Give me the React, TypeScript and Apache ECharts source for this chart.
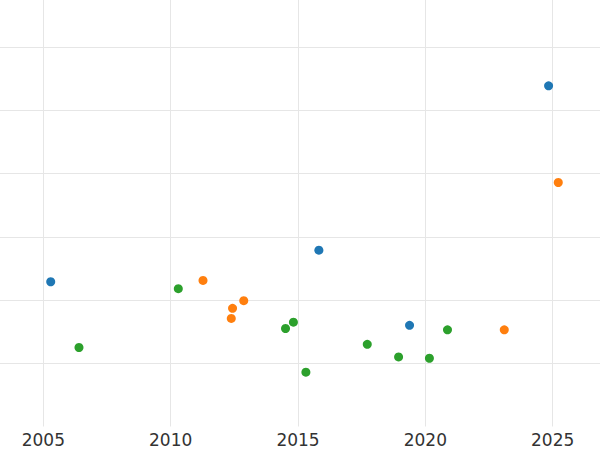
import React, { useEffect, useRef } from "react";
import * as echarts from "echarts";

// Group 1 (blue)
const blueYears = [2005.29, 2015.82, 2019.38, 2024.84];
const blueValues = [2.29, 2.79, 1.6, 5.39];
// Group 2 (orange)
const orangeYears = [2011.27, 2012.43, 2012.38, 2012.87, 2023.1, 2025.22];
const orangeValues = [2.31, 1.87, 1.71, 1.99, 1.53, 3.86];
// Group 3 (green)
const greenYears = [2006.4, 2010.3, 2014.51, 2014.82, 2015.31, 2017.72, 2018.95, 2020.16, 2020.87];
const greenValues = [1.25, 2.18, 1.55, 1.65, 0.86, 1.3, 1.1, 1.08, 1.53];

const xTickLabels = ["2005", "2010", "2015", "2020", "2025"];

const zip = (xs: number[], ys: number[]) => xs.map((x, i) => [x, ys[i]]);

export default function App() {
  const ref = useRef<HTMLDivElement>(null);
  useEffect(() => {
    if (!ref.current) return;
    const chart = echarts.init(ref.current, null, { renderer: "svg" });
    const grid = "#e6e6e6";
    chart.setOption({
      animation: false,
      backgroundColor: "#ffffff",
      grid: {
        left: -84,
        right: -80,
        top: -16,
        bottom: 23.5,
        containLabel: false,
        outerBoundsMode: "none",
      },
      xAxis: {
        type: "value",
        min: 2000,
        max: 2030,
        interval: 5,
        axisLine: { show: false },
        axisTick: { show: false },
        axisLabel: {
          margin: 5,
          fontSize: 17,
          fontFamily: "DejaVu Sans",
          color: "#333333",
          formatter: (v: number) => (xTickLabels.includes(String(v)) ? String(v) : ""),
        },
        splitLine: { show: true, lineStyle: { color: grid, width: 1 } },
      },
      yAxis: {
        type: "value",
        min: 0,
        max: 7,
        interval: 1,
        axisLine: { show: false },
        axisTick: { show: false },
        axisLabel: { show: false },
        splitLine: { show: true, showMinLine: false, lineStyle: { color: grid, width: 1 } },
      },
      series: [
        { name: "blue", type: "scatter", symbolSize: 9, itemStyle: { color: "#1f77b4", opacity: 1 }, data: zip(blueYears, blueValues) },
        { name: "orange", type: "scatter", symbolSize: 9, itemStyle: { color: "#ff7f0e", opacity: 1 }, data: zip(orangeYears, orangeValues) },
        { name: "green", type: "scatter", symbolSize: 9, itemStyle: { color: "#2ca02c", opacity: 1 }, data: zip(greenYears, greenValues) },
      ],
    });
    return () => chart.dispose();
  }, []);
  return <div ref={ref} style={{ width: 600, height: 450, position: "absolute", left: 0, top: 0 }} />;
}
